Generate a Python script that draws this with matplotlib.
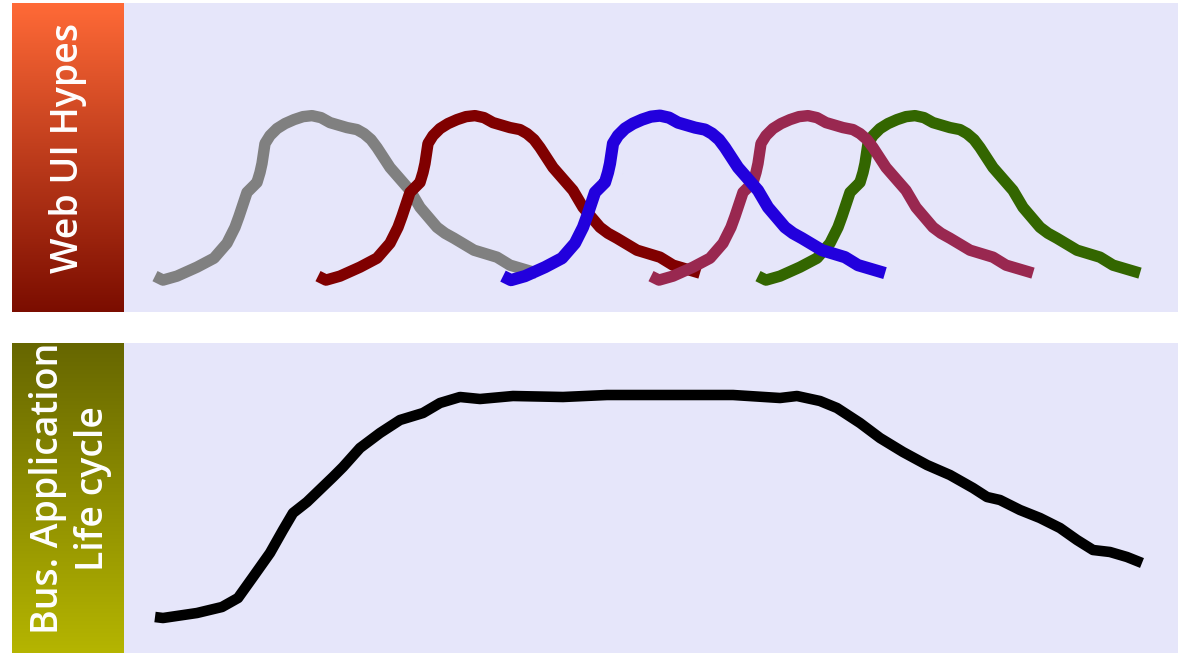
import numpy as np
import matplotlib
matplotlib.use("Agg")
import matplotlib.pyplot as plt
from matplotlib.colors import LinearSegmentedColormap

# shape of one hype curve: offset from its start, hype level
hype_dx = [0, 8, 22, 42, 59, 72, 80, 84, 87, 92, 98, 102, 105, 107, 110, 115, 122,
           130, 139, 148, 157, 166, 175, 192, 202, 209, 216, 222, 235, 255, 265,
           282, 290, 299, 319, 342, 355, 382]
hype_level = [36, 32, 36, 45, 54, 69, 85, 96, 105, 120, 126, 130, 140, 149, 169, 177,
              184, 189, 193, 196, 197, 195, 190, 185, 183, 179, 173, 165, 145, 122,
              105, 85, 79, 74, 62, 55, 47, 39]

# the hypes, in drawing order (last one on top)
hype_names = ["green", "gray", "red", "purple", "blue"]
hype_start = [634, 31, 194, 527, 379]
hype_colors = ["#336600", "#808080", "#800000", "#992850", "#2200DD"]
hype_widths = [8.2, 8.2, 8.2, 8.2, 8.8]

# business application life cycle
life_t = [31, 39, 73, 98, 114, 129, 146, 159, 169, 183, 209, 219, 236, 256, 276,
          299, 316, 336, 356, 389, 439, 483, 533, 609, 656, 673, 696, 713, 736,
          756, 779, 803, 826, 849, 863, 876, 896, 916, 936, 953, 969, 986, 1003, 1018]
life_level = [36, 35, 40, 46, 55, 76, 100, 123, 140, 151, 176, 186, 205, 220, 233,
              240, 250, 256, 254, 257, 256, 258, 258, 258, 255, 257, 252, 245, 230,
              215, 201, 188, 178, 165, 156, 153, 143, 135, 125, 113, 103, 101, 96, 90]

W, H = 1178, 654
fig = plt.figure(figsize=(W / 100, H / 100), dpi=100)
fig.patch.set_facecolor("white")


def fig_rect(x0, y0, x1, y1):
    # pixel box -> figure fraction rect
    return [x0 / W, 1 - y1 / H, (x1 - x0) / W, (y1 - y0) / H]


def label_box(rect, c_top, c_bottom, text, tx, ty):
    ax = fig.add_axes(rect)
    cmap = LinearSegmentedColormap.from_list("g", [c_top, c_bottom])
    grad = np.linspace(0, 1, 256).reshape(-1, 1)
    ax.imshow(grad, cmap=cmap, aspect="auto", extent=[0, 1, 1, 0])
    ax.set_xlim(0, 1)
    ax.set_ylim(1, 0)
    ax.axis("off")
    ax.text(tx, ty, text, rotation=90, color="white", ha="center", va="center",
            fontsize=27, fontweight="semibold", family=["Open Sans", "DejaVu Sans"],
            multialignment="center", linespacing=1.25, clip_on=False)
    return ax


def plot_box(rect):
    ax = fig.add_axes(rect)
    ax.set_facecolor("#E6E6FA")
    ax.set_xlim(0, 1054)
    ax.set_ylim(0, 310)
    ax.set_xticks([])
    ax.set_yticks([])
    for s in ax.spines.values():
        s.set_visible(False)
    return ax


label_box(fig_rect(12, 3, 124, 312), "#FF6A37", "#7B0D00", "Web UI Hypes", 0.5, 0.47)
label_box(fig_rect(12, 343, 124, 653), "#666600", "#B5B500",
          "Bus. Application\nLife cycle", 0.52, 0.47)

ax1 = plot_box(fig_rect(124, 3, 1178, 312))
for i, name in enumerate(hype_names):
    x = np.array(hype_dx) + hype_start[i]
    ax1.plot(x, hype_level, color=hype_colors[i], lw=hype_widths[i],
             solid_capstyle="butt", solid_joinstyle="round", zorder=2 + i)

ax2 = plot_box(fig_rect(124, 343, 1178, 653))
ax2.plot(life_t, life_level, color="black", lw=7.6,
         solid_capstyle="butt", solid_joinstyle="round")

fig.savefig("out.png", dpi=100)
